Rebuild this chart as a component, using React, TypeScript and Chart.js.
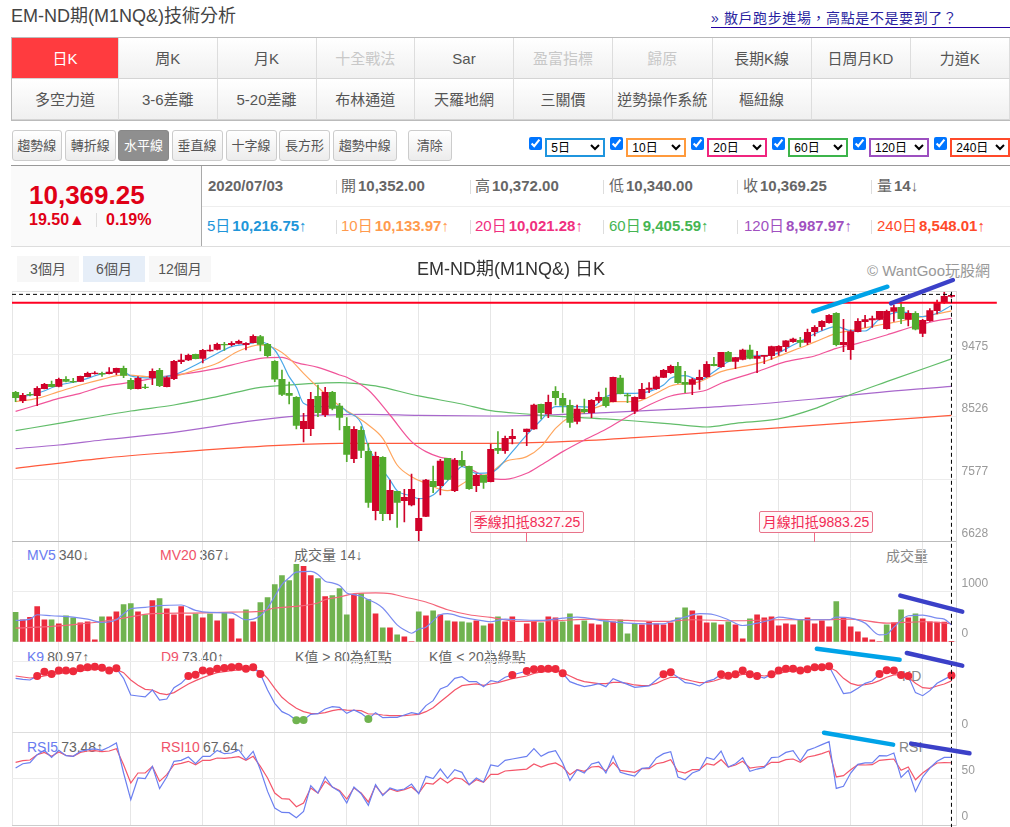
import React, { useEffect, useRef } from "react";
import { Chart, registerables } from "chart.js";

Chart.register(...registerables);

const FONT = '"Liberation Sans", "Noto Sans CJK TC", sans-serif';

const OPENS = [
  8898, 8772, 8868, 8848, 8954, 9020, 8989, 9096, 9065, 9065,
  9136, 9182, 9187, 9182, 9202, 9263, 9080, 8954, 8979, 9121,
  9232, 8984, 9106, 9364, 9389, 9475, 9414, 9526, 9551, 9627,
  9622, 9642, 9622, 9652, 9743, 9627, 9369, 9096, 8883, 8823,
  8347, 8347, 8838, 8559, 8898, 8691, 8382, 7891, 8321, 8003,
  7102, 7912, 7056, 7396, 7254, 7188, 6798, 7016, 7547, 7482,
  7896, 7406, 7866, 7775, 7482, 7638, 7542, 8048, 8013, 8195,
  null, 8301, 8342, 8716, 8569, 8914, 8807, 8701, 8458, 8640,
  8590, 8777, 8823, 8757, 9116, 8858, 8615, 8802, 8944, 8954,
  9126, 9197, 9293, 9050, 9020, 9091, 9136, 9323, 9288, 9505,
  9369, 9399, 9541, 9414, 9445, 9455, 9521, 9592, 9667, 9688,
  9657, 9819, 9895, 9956, 10098, 9622, 9546, 9819, 9971, 9996,
  10006, 9865, 10128, 10189, 10006, 10098, 9794, 9986, 10138, 10265,
  10352,
];
const CLOSES = [
  8817, 8853, 8858, 8959, 9020, 8984, 9096, 9065, 9055, 9141,
  9187, 9192, 9172, 9207, 9263, 9156, 8954, 9111, 8969, 9217,
  9000, 9121, 9369, 9389, 9460, 9409, 9536, 9541, 9627, 9617,
  9642, 9673, 9642, 9748, 9627, 9455, 9096, 8868, 8853, 8397,
  8458, 8792, 8590, 8898, 8655, 8519, 7957, 8337, 8018, 7229,
  7927, 7056, 7411, 7229, 7304, 7426, 6986, 7568, 7466, 7856,
  7578, 7866, 7790, 7436, 7638, 7532, 8033, 8018, 8200, 8230,
  null, 8342, 8706, 8590, 8747, 8817, 8701, 8443, 8645, 8605,
  8777, 8823, 8696, 9126, 8878, 8843, 8823, 8944, 8964, 9131,
  9232, 9293, 9045, 9020, 9091, 9126, 9323, 9303, 9505, 9369,
  9425, 9541, 9414, 9445, 9460, 9592, 9597, 9678, 9708, 9657,
  9809, 9885, 9976, 10067, 9622, 9657, 9819, 9976, 10001, 10017,
  10128, 10128, 10184, 10017, 10098, 9855, 9991, 10138, 10249, 10356,
  10369.25,
];
const HIGHS = [
  8914, 8883, 8898, 8984, 9035, 9070, 9116, 9136, 9111, 9146,
  9207, 9212, 9207, 9273, 9268, 9298, 9111, 9136, 9020, 9253,
  9263, 9136, 9384, 9480, 9480, 9480, 9551, 9617, 9647, 9657,
  9667, 9693, 9652, 9769, 9764, 9642, 9379, 9237, 9055, 8833,
  8580, 8898, 9010, 8974, 8914, 8731, 8514, 8377, 8377, 8124,
  7993, 7922, 7568, 7396, 7426, 7659, 7289, 7578, 7780, 7881,
  7896, 7896, 8003, 7780, 7659, 7643, 8114, 8301, 8235, 8337,
  null, 8342, 8721, 8721, 8858, 8984, 8883, 8782, 8706, 8797,
  8787, 8903, 8964, 9131, 9156, 8883, 8828, 9035, 9045, 9146,
  9247, 9313, 9354, 9217, 9111, 9237, 9364, 9430, 9505, 9521,
  9430, 9556, 9617, 9521, 9460, 9602, 9607, 9683, 9723, 9733,
  9860, 9910, 9986, 10077, 10108, 10006, 9845, 10017, 10067, 10057,
  10128, 10148, 10224, 10259, 10138, 10123, 10006, 10168, 10300, 10420,
  10372,
];
const LOWS = [
  8757, 8741, 8843, 8696, 8949, 8979, 8979, 9055, 9045, 9060,
  9131, 9172, 9141, 9177, 9166, 9121, 8944, 8949, 8954, 9015,
  8984, 8979, 9091, 9333, 9379, 9404, 9344, 9521, 9541, 9536,
  9602, 9632, 9541, 9647, 9526, 9430, 9060, 8848, 8721, 8342,
  8144, 8241, 8529, 8529, 8630, 8327, 7846, 7831, 7907, 7153,
  6960, 6950, 6960, 6849, 6930, 7173, 6647, 7011, 7375, 7340,
  7568, 7390, 7770, 7426, 7390, 7441, 7537, 7967, 7972, 8114,
  null, 8089, 8337, 8494, 8514, 8706, 8595, 8367, 8418, 8580,
  8514, 8741, 8671, 8752, 8873, 8741, 8575, 8797, 8893, 8944,
  9121, 9187, 9035, 8893, 8863, 8944, 9126, 9298, 9278, 9364,
  9258, 9389, 9404, 9197, 9333, 9399, 9460, 9516, 9657, 9592,
  9622, 9753, 9840, 9946, 9602, 9516, 9399, 9814, 9885, 9885,
  9996, 9855, 9976, 9941, 9905, 9845, 9743, 9976, 10087, 10249,
  10340,
];

const VOLUMES = [
  590, 443, 490, 705, 443, 443, 362, 523, 483, 382,
  403, 40, 503, 503, 604, 745, 765, 604, 544, 825,
  866, 664, 544, 705, 523, 564, 483, 564, 423, 584,
  463, 60, 644, 403, 785, 886, 1147, 1329, 1228, 1550,
  1510, 1329, 1268, 906, 926, 1067, 544, 946, 966, 845,
  564, 282, 282, 141, 101, 0, 604, 523, 624, 544,
  423, 403, 403, 382, 423, 322, 362, 503, 403, 503,
  0, 362, 409, 382, 503, 483, 403, 564, 342, 423,
  362, 342, 423, 403, 443, 161, 362, 342, 403, 362,
  342, 382, 483, 684, 624, 523, 382, 382, 342, 403,
  342, 60, 463, 544, 483, 503, 322, 362, 342, 443,
  483, 362, 423, 302, 805, 483, 302, 201, 81, 40,
  0, 342, 382, 644, 483, 564, 463, 403, 396, 396,
  14,
];
const VOLUME_SIDES = (
  "GRRRRGRGGR" + "RRGRRGGRGR" + "GRRRRGRGRG" + "RRGRGGGGGG" + "RRGRGGGRGG" +
  "RGRGRRGRGR" + "GRGGRGRGRR" + "RRRGRRGGRG" + "RRGRGGGRRR" + "RRGGRRRGRG" +
  "RRGRRRRRRG" + "RRRRGRRRRR" + "RGRGRGRRRRR"
).split("");

const MA5_AT = [0, 3, 6, 9, 12, 15, 16, 19, 22, 25, 27, 30, 32, 34, 36, 37, 38, 39, 40, 42, 45, 46, 48, 49, 51, 52, 53, 55, 56, 58, 59, 61, 62, 64, 66, 67, 69, 71, 73, 75, 76, 78, 80, 82, 84, 86, 88, 90, 91, 93, 95, 97, 99, 102, 105, 108, 111, 114, 116, 118, 120, 123, 126, 128, 130];
const MA5 = [8817, 8883, 9005, 9075, 9177, 9207, 9146, 9116, 9162, 9313, 9430, 9592, 9627, 9662, 9541, 9359, 9136, 8974, 8731, 8681, 8691, 8605, 8428, 8074, 7719, 7568, 7406, 7325, 7284, 7340, 7441, 7669, 7770, 7669, 7679, 7745, 7998, 8251, 8478, 8681, 8681, 8681, 8671, 8833, 8883, 8883, 8909, 9010, 9111, 9151, 9086, 9212, 9364, 9450, 9465, 9617, 9784, 9895, 9834, 9829, 10006, 10118, 10047, 10098, 10216.75];
const MA10_AT = [0, 3, 6, 9, 12, 15, 19, 22, 25, 28, 31, 34, 36, 38, 40, 42, 45, 47, 49, 51, 53, 55, 57, 59, 60, 63, 66, 68, 71, 73, 75, 77, 79, 81, 83, 86, 89, 91, 95, 98, 101, 104, 107, 110, 112, 114, 117, 120, 123, 126, 128, 130];
const MA10 = [8757, 8807, 8908, 9010, 9096, 9162, 9136, 9146, 9237, 9339, 9526, 9617, 9566, 9414, 9187, 8974, 8691, 8554, 8402, 8200, 7795, 7618, 7517, 7426, 7406, 7568, 7679, 7846, 7922, 8074, 8352, 8529, 8605, 8681, 8757, 8757, 8883, 8995, 9060, 9212, 9288, 9364, 9490, 9617, 9708, 9794, 9855, 9920, 9981, 10047, 10087, 10133.97];
const MA20_AT = [0, 3, 6, 9, 12, 15, 18, 21, 24, 28, 31, 34, 37, 39, 42, 45, 46, 49, 52, 55, 57, 59, 61, 63, 66, 68, 71, 73, 76, 79, 82, 85, 88, 91, 96, 98, 103, 107, 111, 114, 117, 121, 125, 128, 130];
const MA20 = [8610, 8706, 8807, 8883, 8984, 9035, 9086, 9146, 9187, 9263, 9339, 9414, 9430, 9349, 9278, 9162, 9126, 8934, 8554, 8150, 7998, 7912, 7871, 7745, 7593, 7578, 7669, 7795, 7998, 8175, 8337, 8529, 8706, 8843, 8934, 9035, 9212, 9364, 9450, 9566, 9642, 9769, 9905, 9986, 10021.28];
const MA60_AT = [0, 6, 16, 22, 28, 34, 38, 45, 47, 50, 56, 62, 66, 71, 76, 82, 86, 91, 96, 100, 106, 111, 114, 121, 130];
const MA60 = [8316, 8428, 8615, 8706, 8833, 8974, 9010, 9045, 9035, 8995, 8843, 8721, 8620, 8569, 8529, 8494, 8463, 8418, 8372, 8428, 8494, 8650, 8782, 9060, 9405.59];
const MA120_AT = [0, 6, 12, 22, 32, 38, 45, 49, 56, 66, 74, 82, 91, 100, 111, 121, 130];
const MA120 = [8043, 8099, 8175, 8291, 8453, 8529, 8559, 8564, 8549, 8539, 8554, 8590, 8640, 8696, 8797, 8908, 8987.97];
const MA240_AT = [0, 12, 22, 34, 45, 56, 66, 76, 86, 91, 103, 116, 130];
const MA240 = [7745, 7897, 7988, 8079, 8124, 8124, 8124, 8150, 8210, 8246, 8337, 8438, 8548.01];

const MV5_AT = [0, 2, 3, 5, 8, 10, 12, 14, 15, 16, 18, 20, 23, 25, 27, 30, 32, 33, 34, 35, 36, 37, 38, 39, 41, 42, 43, 44, 45, 46, 47, 48, 49, 50, 51, 52, 53, 54, 55, 56, 57, 59, 60, 62, 64, 66, 68, 70, 73, 76, 78, 82, 85, 88, 90, 91, 93, 95, 97, 99, 101, 103, 105, 106, 109, 112, 113, 114, 116, 118, 120, 121, 122, 124, 126, 128, 129, 130];
const MV5 = [429, 456, 543, 523, 497, 456, 389, 443, 564, 664, 691, 725, 738, 631, 590, 577, 443, 456, 523, 678, 913, 1147, 1282, 1396, 1409, 1349, 1215, 1181, 1127, 980, 946, 913, 845, 778, 678, 510, 342, 242, 174, 255, 295, 543, 564, 497, 443, 403, 456, 443, 429, 476, 497, 416, 376, 362, 362, 409, 497, 564, 543, 443, 329, 376, 443, 497, 443, 443, 443, 497, 476, 376, 141, 154, 295, 523, 537, 476, 456, 340];
const MV20_AT = [0, 3, 6, 9, 12, 15, 19, 24, 30, 34, 36, 39, 42, 43, 45, 47, 50, 52, 54, 57, 60, 63, 66, 70, 75, 80, 85, 90, 94, 100, 106, 112, 116, 121, 126, 130];
const MV20 = [275, 295, 322, 362, 409, 476, 564, 577, 597, 611, 678, 711, 778, 845, 899, 966, 980, 966, 899, 798, 644, 543, 490, 409, 423, 456, 429, 409, 443, 423, 443, 443, 456, 376, 403, 367];

const K9 = [
  76.9, 75.5, 74.6, 80.2, 86.3, 83.1, 87.8, 87.8, 86.8, 91.0,
  92.5, 93.4, 92.0, 87.8, 91.0, 76.9, 53.5, 52.1, 50.7, 60.5,
  46.4, 47.8, 63.8, 69.9, 80.2, 82.1, 87.8, 86.8, 90.6, 91.5,
  92.5, 93.4, 90.6, 92.5, 83.1, 60.5, 41.7, 30.0, 25.3, 17.8,
  18.3, 26.3, 27.2, 33.8, 37.0, 36.1, 27.6, 32.3, 27.6, 19.7,
  28.6, 21.6, 22.0, 22.0, 25.3, 28.6, 26.7, 38.5, 45.5, 61.9,
  66.2, 76.9, 79.3, 72.3, 72.3, 65.2, 73.7, 71.8, 78.4, 81.7,
  null, 87.3, 89.6, 90.1, 90.6, 90.1, 84.0, 72.3, 68.5, 65.2,
  67.1, 69.4, 65.2, 76.5, 72.3, 68.5, 64.3, 65.2, 66.2, 74.6,
  82.6, 85.4, 78.4, 70.9, 69.4, 66.2, 72.7, 75.5, 82.6, 80.7,
  82.6, 87.8, 82.6, 80.2, 77.4, 82.6, 87.8, 90.6, 90.6, 87.8,
  89.6, 92.5, 92.5, 93.9, 74.6, 55.4, 56.8, 62.9, 69.9, 73.2,
  83.1, 88.2, 87.8, 81.7, 80.2, 56.8, 52.5, 59.6, 69.9, 75.5,
  80.97,
];
const D9 = [
  80.2, 78.8, 77.4, 78.4, 80.2, 82.1, 83.5, 84.9, 85.9, 87.3,
  88.7, 89.6, 89.6, 89.6, 89.6, 84.9, 74.6, 67.1, 61.5, 60.5,
  55.8, 54.0, 56.8, 62.9, 69.0, 73.7, 77.9, 81.7, 84.9, 86.3,
  87.8, 88.7, 89.6, 89.2, 87.3, 76.9, 62.9, 50.2, 41.7, 34.7,
  30.0, 27.6, 27.2, 28.6, 31.4, 33.3, 32.3, 31.9, 31.4, 26.7,
  26.7, 25.3, 24.4, 24.4, 24.4, 25.3, 26.3, 30.0, 35.6, 44.0,
  52.1, 60.5, 66.6, 68.0, 69.0, 67.1, 69.0, 70.9, 73.7, 76.5,
  null, 80.2, 84.0, 85.9, 86.8, 87.3, 84.9, 80.2, 75.5, 72.3,
  70.9, 69.4, 69.4, 71.3, 71.3, 69.9, 67.6, 66.6, 67.1, 69.9,
  74.6, 78.4, 78.4, 75.5, 73.2, 70.9, 71.3, 73.2, 76.5, 78.4,
  80.2, 82.6, 82.6, 81.7, 80.2, 81.7, 84.0, 85.9, 87.3, 87.8,
  88.7, 90.1, 91.0, 92.5, 87.3, 76.9, 69.9, 67.1, 68.0, 69.9,
  73.7, 78.4, 81.7, 81.7, 78.4, 69.9, 63.8, 62.9, 66.2, 69.0,
  73.4,
];
const RSI5 = [
  61.9, 66.6, 67.7, 76.4, 81.1, 73.5, 81.1, 75.3, 74.6, 80.0,
  81.8, 82.6, 81.1, 84.7, 89.1, 56.5, 27.5, 51.1, 50.4, 63.7,
  39.5, 52.2, 69.2, 70.3, 73.9, 66.6, 74.6, 74.6, 81.1, 77.5,
  78.2, 81.5, 71.0, 80.0, 60.1, 36.5, 18.4, 13.7, 13.4, 7.9,
  14.8, 42.7, 34.7, 52.2, 41.3, 36.5, 23.9, 41.3, 34.0, 21.3,
  43.8, 31.9, 40.2, 37.6, 39.1, 44.5, 34.0, 52.9, 50.4, 60.8,
  50.7, 60.1, 57.2, 43.8, 51.1, 46.7, 65.2, 63.7, 70.3, 71.7,
  null, 74.6, 82.9, 74.6, 78.9, 80.8, 67.4, 48.5, 60.1, 56.5,
  66.3, 68.4, 56.5, 75.0, 57.2, 55.0, 53.2, 61.6, 62.3, 72.8,
  77.5, 79.7, 52.2, 49.2, 56.5, 59.4, 73.5, 71.0, 80.4, 63.0,
  66.6, 73.2, 58.3, 60.8, 62.6, 73.2, 73.9, 78.9, 80.8, 69.5,
  81.1, 84.0, 87.3, 90.5, 39.8, 42.0, 56.5, 65.9, 67.4, 67.4,
  75.3, 75.0, 78.2, 51.8, 59.4, 36.5, 52.2, 61.9, 69.2, 73.5,
  73.48,
];
const RSI10 = [
  68.1, 69.9, 70.6, 76.4, 78.9, 74.6, 79.3, 75.7, 74.6, 78.9,
  80.4, 80.8, 79.7, 80.4, 82.9, 65.5, 45.6, 56.5, 56.5, 63.7,
  47.4, 54.7, 65.5, 67.0, 69.2, 65.5, 70.3, 70.3, 72.8, 72.4,
  73.2, 74.2, 70.3, 74.6, 63.7, 51.1, 34.7, 28.6, 28.2, 19.9,
  23.9, 40.2, 34.7, 47.4, 41.3, 37.6, 28.2, 40.2, 34.7, 25.0,
  42.7, 32.9, 39.1, 36.5, 38.4, 41.3, 34.7, 45.6, 44.5, 51.1,
  45.6, 51.1, 50.0, 43.8, 49.2, 46.3, 55.0, 55.0, 58.7, 59.4,
  null, 60.8, 66.3, 63.0, 65.9, 67.4, 63.0, 54.7, 60.1, 58.3,
  63.0, 63.7, 58.7, 68.1, 59.4, 58.3, 57.2, 61.2, 61.2, 66.6,
  68.1, 71.0, 58.3, 56.5, 60.1, 60.1, 66.6, 65.2, 71.0, 63.0,
  65.2, 69.2, 61.9, 63.0, 63.7, 68.1, 68.1, 71.0, 71.7, 68.1,
  73.9, 75.3, 77.5, 80.4, 52.2, 53.6, 60.1, 65.5, 65.2, 65.5,
  70.3, 71.0, 71.7, 59.4, 63.0, 49.2, 56.5, 62.3, 67.4, 67.7,
  67.64,
];

const PRICE_TICKS = [6628, 7577, 8526, 9475, 10424];
const VOLUME_TICKS = [0, 1000, 2000];
const KD_TICKS = [0, 100];
const RSI_TICKS = [0, 50, 100];
const X_GRID = [-0.5, 6, 16, 26, 36, 46, 56, 66, 76, 86, 96, 106, 116, 126];

// hand drawn strokes on the screenshot, in the units of their panel
const STROKES = [
  { axis: "yPrice", color: "#00a3e8", x0: 110.8, y0: 10128, x1: 121.1, y1: 10501 },
  { axis: "yPrice", color: "#3b40c8", x0: 121.6, y0: 10249, x1: 130.2, y1: 10603 },
  { axis: "yVolume", color: "#3b40c8", x0: 122.9, y0: 926, x1: 131.5, y1: 606 },
  { axis: "yKd", color: "#00a3e8", x0: 111.3, y0: 118.7, x1: 122.8, y1: 103.2 },
  { axis: "yKd", color: "#3b40c8", x0: 123.8, y0: 112.7, x1: 131.5, y1: 94.8 },
  { axis: "yRsi", color: "#00a3e8", x0: 112.3, y0: 100.3, x1: 121.9, y1: 87.3 },
  { axis: "yRsi", color: "#3b40c8", x0: 124.4, y0: 88.4, x1: 132.5, y1: 77.9 },
];
const RED_LEVEL = 10258;
const DASH_LEVEL = 10385;

const TABS_TOP = [
  ["日K", 107], ["周K", 98.5], ["月K", 99], ["十全戰法", 98.5], ["Sar", 99],
  ["盈富指標", 99], ["歸原", 99.5], ["長期K線", 99], ["日周月KD", 99], ["力道K", 99.5],
];
const TABS_BOTTOM = [
  ["多空力道", 107], ["3-6差離", 98.5], ["5-20差離", 99], ["布林通道", 98.5], ["天羅地網", 99],
  ["三關價", 99], ["逆勢操作系統", 99.5], ["樞紐線", 99], ["", 198.5],
];
const DISABLED_TABS = ["十全戰法", "盈富指標", "歸原"];
const TOOLS = [
  ["趨勢線", 11.5, 50.5], ["轉折線", 64.5, 51.5], ["水平線", 118, 51], ["垂直線", 171.5, 51],
  ["十字線", 225.5, 51], ["長方形", 279, 51], ["趨勢中線", 332.5, 64.5], ["清除", 407.5, 44.5],
];
const MA_PICKERS = [
  ["5日", 529, 545.3, "#1f95de"], ["10日", 610, 626.3, "#ff9a3c"], ["20日", 691, 707.3, "#f0257f"],
  ["60日", 772, 788.3, "#3cb44b"], ["120日", 853, 869, "#9c4fc0"], ["240日", 934, 950.3, "#ff4a2a"],
];
const QUOTES = [
  ["開", "10,352.00", 341], ["高", "10,372.00", 475], ["低", "10,340.00", 609],
  ["收", "10,369.25", 743], ["量", "14↓", 877],
];
const MA_QUOTES = [
  ["5日", "10,216.75↑", 207, "#2196d9"], ["10日", "10,133.97↑", 341, "#ff9a4d"],
  ["20日", "10,021.28↑", 475, "#f0307f"], ["60日", "9,405.59↑", 609, "#45b552"],
  ["120日", "8,987.97↑", 744, "#a050c0"], ["240日", "8,548.01↑", 877, "#ff4a2a"],
];
const SEPARATORS = [335.5, 469.5, 603, 737, 871];

const pairs = (at, values) => at.map((x, i) => ({ x, y: values[i] }));
const series = (values) =>
  values.map((y, x) => ({ x, y })).filter((p) => p.y !== null);

const drawnLines = {
  id: "drawnLines",
  afterDatasetsDraw(chart) {
    const { ctx, chartArea, scales } = chart;
    const x = scales.x;
    const price = scales.yPrice;
    ctx.save();

    ctx.strokeStyle = "#ff0022";
    ctx.lineWidth = 2;
    ctx.beginPath();
    ctx.moveTo(chartArea.left, price.getPixelForValue(RED_LEVEL));
    ctx.lineTo(x.getPixelForValue(136.3), price.getPixelForValue(RED_LEVEL));
    ctx.stroke();

    ctx.strokeStyle = "#000";
    ctx.lineWidth = 1;
    ctx.setLineDash([4, 3]);
    ctx.beginPath();
    ctx.moveTo(chartArea.left, price.getPixelForValue(DASH_LEVEL));
    ctx.lineTo(x.getPixelForValue(130), price.getPixelForValue(DASH_LEVEL));
    ctx.moveTo(x.getPixelForValue(130), chartArea.top);
    ctx.lineTo(x.getPixelForValue(130), chart.height);
    ctx.stroke();
    ctx.setLineDash([]);

    ctx.lineWidth = 4.5;
    ctx.lineCap = "round";
    STROKES.forEach((s) => {
      ctx.strokeStyle = s.color;
      ctx.beginPath();
      ctx.moveTo(x.getPixelForValue(s.x0), scales[s.axis].getPixelForValue(s.y0));
      ctx.lineTo(x.getPixelForValue(s.x1), scales[s.axis].getPixelForValue(s.y1));
      ctx.stroke();
    });
    ctx.restore();
  },
};

const lineSet = (label, data, color, yAxisID, order, width = 1.2) => ({
  type: "line",
  label,
  data,
  yAxisID,
  order,
  borderColor: color,
  borderWidth: width,
  pointRadius: 0,
  cubicInterpolationMode: "monotone",
});

const jaggedSet = (label, values, color, yAxisID, order) => ({
  ...lineSet(label, series(values), color, yAxisID, order, 1.2),
  cubicInterpolationMode: "default",
  tension: 0,
});

const yAxis = (ticksList, weight, gridColor, min, max, hidden) => ({
  type: "linear",
  position: "right",
  stack: "panels",
  stackWeight: weight,
  min,
  max,
  border: { display: true, color: "#dcdcdc" },
  grid: {
    drawTicks: false,
    color: (ctx) => gridColor[ctx.tick?.value] || "#ececec",
  },
  afterBuildTicks: (axis) => {
    axis.ticks = ticksList.map((value) => ({ value }));
  },
  afterFit: (axis) => {
    axis.width = 53.5;
    axis.paddingTop = 0;
    axis.paddingBottom = 0;
  },
  ticks: {
    autoSkip: false,
    padding: 5,
    labelOffset: -8,
    color: "#9a9a9a",
    font: { size: 12, family: FONT },
    callback: (v) => (v === hidden ? "" : String(v)),
  },
});

function PriceChart() {
  const canvasRef = useRef<HTMLCanvasElement>(null);

  useEffect(() => {
    if (!canvasRef.current) return;
    const idx = CLOSES.map((_, i) => i).filter((i) => CLOSES[i] !== null);
    const candleColor = (i) => (CLOSES[i] >= OPENS[i] ? "#d0022a" : "#52ab2e");

    const chart = new Chart(canvasRef.current, {
      type: "bar",
      plugins: [drawnLines],
      data: {
        datasets: [
          lineSet("MA5", pairs(MA5_AT, MA5), "#4aa8e8", "yPrice", 5),
          lineSet("MA10", pairs(MA10_AT, MA10), "#ffa65e", "yPrice", 6),
          lineSet("MA20", pairs(MA20_AT, MA20), "#f0559a", "yPrice", 7),
          lineSet("MA60", pairs(MA60_AT, MA60), "#62bd6a", "yPrice", 8),
          lineSet("MA120", pairs(MA120_AT, MA120), "#a868cc", "yPrice", 9),
          lineSet("MA240", pairs(MA240_AT, MA240), "#ff5a3c", "yPrice", 10),
          {
            label: "wick",
            data: idx.map((i) => ({ x: i, y: [LOWS[i], HIGHS[i]] })),
            yAxisID: "yPrice",
            order: 2,
            grouped: false,
            barThickness: 1,
            backgroundColor: idx.map(candleColor),
          },
          {
            label: "candle",
            data: idx.map((i) => ({ x: i, y: [OPENS[i], CLOSES[i]] })),
            yAxisID: "yPrice",
            order: 1,
            grouped: false,
            barThickness: 6.4,
            backgroundColor: idx.map(candleColor),
          },
          {
            label: "volume",
            data: series(VOLUMES),
            yAxisID: "yVolume",
            order: 2,
            grouped: false,
            barThickness: 5,
            backgroundColor: VOLUME_SIDES.map((s) =>
              s === "G" ? "#70b350" : "#ec2b3d"
            ),
          },
          lineSet("MV5", pairs(MV5_AT, MV5), "#7b8cf0", "yVolume", 0, 1.2),
          lineSet("MV20", pairs(MV20_AT, MV20), "#f4667a", "yVolume", 0, 1.2),
          jaggedSet("D9", D9, "#f4566a", "yKd", 1),
          {
            ...jaggedSet("K9", K9, "#6b7ff0", "yKd", 0),
            pointRadius: (ctx) =>
              ctx.parsed && (ctx.parsed.y > 80 || ctx.parsed.y < 20) ? 4 : 0,
            pointBorderWidth: 0,
            pointBackgroundColor: (ctx) =>
              ctx.parsed && ctx.parsed.y < 20 ? "#70b350" : "#ee2a3c",
          },
          jaggedSet("RSI10", RSI10, "#f4566a", "yRsi", 1),
          jaggedSet("RSI5", RSI5, "#6b7ff0", "yRsi", 0),
        ],
      },
      options: {
        animation: false,
        responsive: true,
        maintainAspectRatio: false,
        events: [],
        layout: { autoPadding: false, padding: { left: 1, bottom: 2 } },
        plugins: {
          legend: { display: false },
          tooltip: { enabled: false },
          title: {
            display: true,
            text: "EM-ND期(M1NQ&) 日K",
            color: "#333",
            font: { size: 18, weight: "normal", family: FONT },
            padding: { top: 11.2, bottom: 11 },
          },
        },
        scales: {
          x: {
            type: "linear",
            min: -0.5,
            max: 130.7,
            offset: false,
            border: { display: false },
            grid: { offset: false, drawTicks: false, color: "#e6e6e6" },
            ticks: { display: false },
            afterBuildTicks: (axis) => {
              axis.ticks = X_GRID.map((value) => ({ value }));
            },
          },
          yPrice: yAxis(PRICE_TICKS, 250, { 10424: "#dcdcdc", 6628: "#bbbbbb" }, 6628, 10424, 10424),
          yVolume: yAxis(VOLUME_TICKS, 100, { 2000: "#bbbbbb" }, 0, 2000, 2000),
          yKd: yAxis(KD_TICKS, 91, { 0: "#dddddd" }, 0, 128.2, 100),
          yRsi: yAxis(RSI_TICKS, 92, { 0: "#cccccc", 100: "#dddddd" }, 0, 100, 100),
        },
      },
    });

    return () => {
      chart.destroy();
    };
  }, []);

  return <canvas ref={canvasRef} />;
}

function Text({ x, y, children, size = 14, color = "#666", bold = false, style = {} }) {
  return (
    <div
      style={{
        position: "absolute",
        left: x,
        top: y,
        transform: "translateY(-50%)",
        fontSize: size,
        fontWeight: bold ? "bold" : "normal",
        color,
        whiteSpace: "nowrap",
        lineHeight: 1.2,
        ...style,
      }}
    >
      {children}
    </div>
  );
}

function Tabs({ items, top, height }) {
  let left = 12;
  return (
    <>
      {items.map(([label, width], i) => {
        const active = label === "日K";
        const cell = (
          <div
            key={i}
            style={{
              position: "absolute",
              left,
              top,
              width,
              height,
              boxSizing: "border-box",
              borderRight: "1px solid #ddd",
              borderBottom: "1px solid #d4d4d4",
              background: active ? "#ff3b3f" : "linear-gradient(#ffffff, #f0f0f0)",
              color: active ? "#fff" : DISABLED_TABS.includes(label) ? "#c8c8c8" : "#555",
              fontSize: 15,
              textAlign: "center",
              lineHeight: `${height}px`,
            }}
          >
            {label}
          </div>
        );
        left += width;
        return cell;
      })}
    </>
  );
}

function Callout({ x, text, stemX }) {
  return (
    <>
      <div
        style={{
          position: "absolute",
          left: x,
          top: 511,
          width: 114,
          height: 22,
          boxSizing: "border-box",
          border: "1px solid #e8738a",
          borderRadius: 2,
          background: "#fff8f9",
          color: "#f22b55",
          fontSize: 14,
          lineHeight: "20px",
          textAlign: "center",
          whiteSpace: "nowrap",
        }}
      >
        {text}
      </div>
      <div style={{ position: "absolute", left: stemX, top: 533, width: 1, height: 9, background: "#ee6a85" }} />
    </>
  );
}

const Gap = ({ w }) => <span style={{ display: "inline-block", width: w }} />;

export default function App() {
  return (
    <div
      style={{
        position: "absolute",
        left: 0,
        top: 0,
        width: 1010,
        height: 827,
        overflow: "hidden",
        background: "#fff",
        fontFamily: FONT,
      }}
    >
      <Text x={11} y={17} size={18} color="#444">EM-ND期(M1NQ&)技術分析</Text>
      <Text x={711} y={18} size={14} color="#2a1fa0" style={{ letterSpacing: 0.6 }}>
        » 散戶跑步進場，高點是不是要到了？
      </Text>
      <div style={{ position: "absolute", left: 711, top: 27, width: 299, height: 1, background: "#2200a0" }} />

      <div style={{ position: "absolute", left: 11, top: 37, width: 999, height: 84, boxSizing: "border-box", border: "1px solid #bbb", borderRight: "none" }} />
      <Tabs items={TABS_TOP} top={38} height={41} />
      <Tabs items={TABS_BOTTOM} top={79} height={41} />

      {TOOLS.map(([label, x, width]) => {
        const active = label === "水平線";
        return (
          <div
            key={label}
            style={{
              position: "absolute",
              left: x,
              top: 129.5,
              width,
              height: 31,
              boxSizing: "border-box",
              border: active ? "1px solid #888" : "1px solid #ccc",
              borderRadius: 3,
              background: active ? "#8f8f8f" : "linear-gradient(#ffffff, #ececec)",
              color: active ? "#fff" : "#555",
              fontSize: 13,
              lineHeight: "29px",
              textAlign: "center",
            }}
          >
            {label}
          </div>
        );
      })}

      {MA_PICKERS.map(([label, boxX, selectX, color]) => (
        <React.Fragment key={label}>
          <input
            type="checkbox"
            defaultChecked
            style={{ position: "absolute", left: boxX, top: 137, width: 13, height: 13, margin: 0 }}
          />
          <select
            defaultValue={label}
            style={{
              position: "absolute",
              left: selectX,
              top: 137.5,
              width: 60,
              height: 19,
              boxSizing: "border-box",
              border: `2px solid ${color}`,
              borderRadius: 0,
              background: "#fff",
              fontSize: 12,
              fontFamily: FONT,
              padding: 0,
            }}
          >
            <option>{label}</option>
          </select>
        </React.Fragment>
      ))}

      <div style={{ position: "absolute", left: 11, top: 165, width: 999, height: 1, background: "#999" }} />
      <div style={{ position: "absolute", left: 11, top: 166, width: 190, height: 80, background: "#fafafa" }} />
      <div style={{ position: "absolute", left: 201, top: 166, width: 1, height: 80, background: "#aaa" }} />
      <div style={{ position: "absolute", left: 202, top: 206, width: 808, height: 1, background: "#eee" }} />
      <div style={{ position: "absolute", left: 11, top: 246, width: 999, height: 1, background: "#ddd" }} />
      <Text x={29} y={196} size={26} bold color="#e00016">10,369.25</Text>
      <Text x={29} y={220} size={16} bold color="#e00016">19.50▲</Text>
      <div style={{ position: "absolute", left: 96, top: 213, width: 1, height: 14, background: "#ddd" }} />
      <Text x={106} y={220} size={16} bold color="#e00016">0.19%</Text>
      <Text x={208} y={186} size={15} bold>2020/07/03</Text>
      {QUOTES.map(([label, value, x]) => (
        <Text key={label} x={x} y={186} size={15}>
          {label}<Gap w={2} /><b>{value}</b>
        </Text>
      ))}
      {MA_QUOTES.map(([label, value, x, color]) => (
        <Text key={label} x={x} y={226} size={15} color={color}>
          {label}<Gap w={2} /><b>{value}</b>
        </Text>
      ))}
      {SEPARATORS.map((x) => (
        <React.Fragment key={x}>
          <div style={{ position: "absolute", left: x, top: 180, width: 1, height: 14, background: "#ddd" }} />
          <div style={{ position: "absolute", left: x, top: 220, width: 1, height: 14, background: "#ddd" }} />
        </React.Fragment>
      ))}

      {[["3個月", 17, "#f7f7f7"], ["6個月", 83, "#e6eef8"], ["12個月", 149, "#f7f7f7"]].map(([label, x, bg]) => (
        <div
          key={label}
          style={{
            position: "absolute",
            left: x,
            top: 256,
            width: 62,
            height: 26,
            background: bg,
            color: "#555",
            fontSize: 14,
            lineHeight: "26px",
            textAlign: "center",
          }}
        >
          {label}
        </div>
      ))}
      <Text x={867} y={271} size={15} color="#999">© WantGoo玩股網</Text>

      <Text x={27} y={555}><span style={{ color: "#6a7bf0" }}>MV5</span><Gap w={3} />340↓</Text>
      <Text x={160} y={555}><span style={{ color: "#f0526a" }}>MV20</span><Gap w={3} />367↓</Text>
      <Text x={294} y={555}>成交量 14↓</Text>
      <Text x={886} y={556} color="#888">成交量</Text>
      <Text x={27} y={657}><span style={{ color: "#6a7bf0" }}>K9</span><Gap w={3} />80.97↑</Text>
      <Text x={161} y={657}><span style={{ color: "#f0526a" }}>D9</span><Gap w={3} />73.40↑</Text>
      <Text x={295} y={657}>K值 &gt; 80為紅點</Text>
      <Text x={429} y={657}>K值 &lt; 20為綠點</Text>
      <Text x={902} y={676} color="#888">KD</Text>
      <Text x={27} y={747}><span style={{ color: "#6a7bf0" }}>RSI5</span><Gap w={3} />73.48↑</Text>
      <Text x={161} y={747}><span style={{ color: "#f0526a" }}>RSI10</span><Gap w={3} />67.64↑</Text>
      <Text x={899} y={747} color="#888">RSI</Text>

      <div style={{ position: "absolute", left: 11, top: 248, width: 999, height: 579 }}>
        <PriceChart />
      </div>

      <Callout x={470} text="季線扣抵8327.25" stemX={526} />
      <Callout x={759} text="月線扣抵9883.25" stemX={814} />
    </div>
  );
}
